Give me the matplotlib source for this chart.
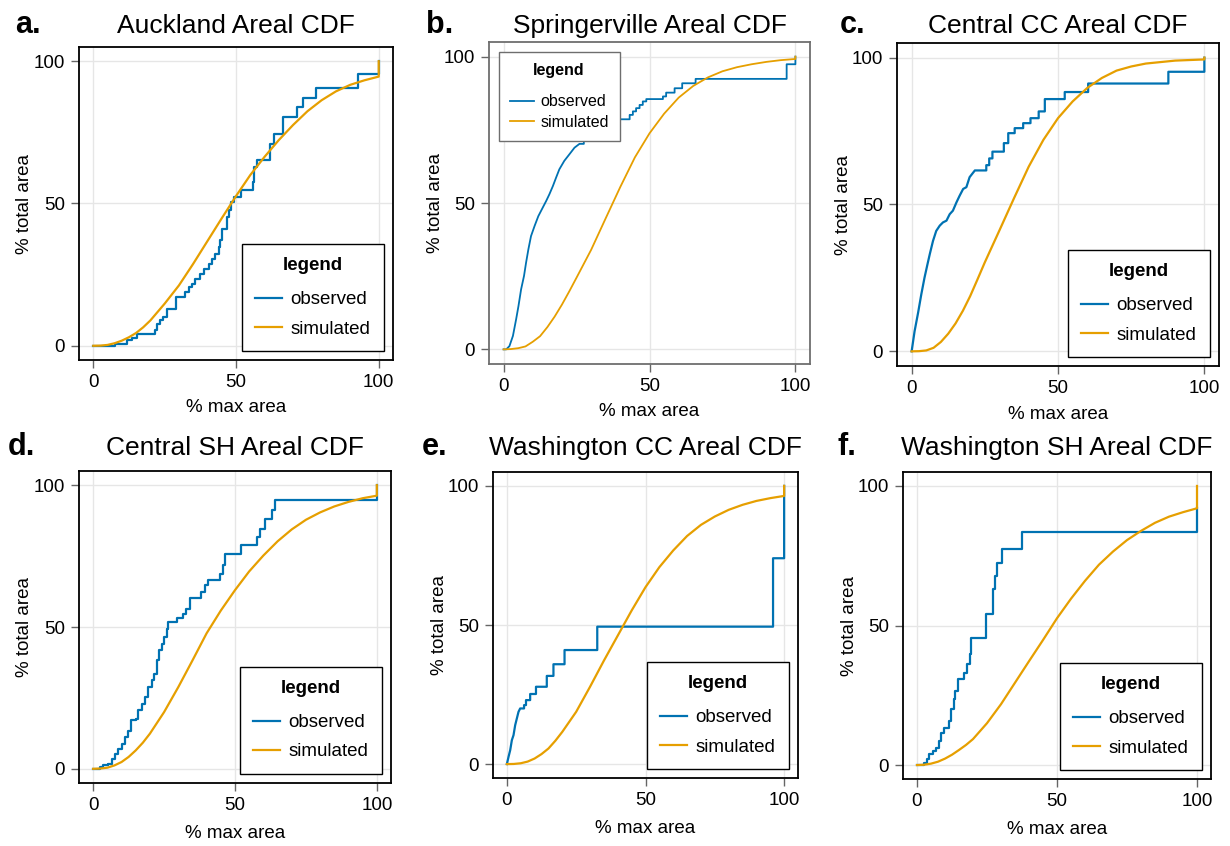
import matplotlib
matplotlib.use("Agg")
import matplotlib.pyplot as plt

plt.rcParams['font.family'] = ['Liberation Sans', 'DejaVu Sans']

# ---- data ----
letters = ["a.", "b.", "c.", "d.", "e.", "f."]
titles = ["Auckland Areal CDF", "Springerville Areal CDF", "Central CC Areal CDF",
          "Central SH Areal CDF", "Washington CC Areal CDF", "Washington SH Areal CDF"]
series_names = ["observed", "simulated"]

# observed CDFs: x where the step happens, y after the step
auck_obs_x = [0, 7.6, 11.7, 13.5, 15.2, 21.7, 22.3, 23.4, 24.6, 25.8, 29.1, 32.2, 33.4, 34.6,
              35.8, 37.5, 38.7, 40.4, 41.6, 42.8, 43.9, 44.5, 45.1, 46.9, 47.5, 48.1, 49.2,
              51.6, 55.9, 56.3, 57.4, 61.9, 63.3, 66.6, 71.3, 73.5, 78.0, 92.8, 100, 100]
auck_obs_y = [0, 0.7, 1.9, 2.6, 4.2, 5.4, 7.7, 8.9, 10.1, 13.0, 17.1, 18.9, 20.6, 21.8,
              23.6, 25.3, 27.1, 28.8, 30.6, 32.4, 34.7, 37.0, 41.1, 45.3, 47.6, 50.5, 52.3,
              54.6, 57.6, 62.8, 65.2, 71.0, 74.6, 80.4, 83.9, 87.2, 90.7, 95.4, 95.4, 100]
auck_sim_x = [0, 2.5, 5, 7.5, 10, 12.5, 15, 17.5, 20, 25, 30, 35, 40, 45, 50, 55, 60, 65, 70,
              75, 80, 85, 90, 95, 100, 100]
auck_sim_y = [0, 0.05, 0.3, 0.9, 1.8, 3.0, 4.5, 6.5, 8.9, 14.8, 21.2, 28.8, 36.8, 44.8, 52.6,
              60.0, 66.4, 72.3, 77.6, 82.4, 86.3, 89.4, 91.7, 93.3, 94.6, 100]

spr_obs_x = [0, 0.9, 2.0, 3.2, 4.3, 5.1, 6.0, 7.0, 7.7, 8.5, 9.4, 10.6, 11.9, 13.4, 14.6,
             15.7, 16.9, 18.0, 19.1, 20.8, 22.6, 24.3, 26.0, 27.5, 30.0, 33.0, 36.0, 43.2,
             44.3, 45.4, 46.6, 47.7, 48.9, 54.6, 55.7, 58.6, 61.2, 65.8, 97.0, 100, 100]
spr_obs_y = [0, 0, 1.1, 4.6, 10.3, 14.8, 20.5, 25.1, 29.6, 34.2, 38.7, 42.1, 45.5, 48.4, 50.7,
             53.0, 55.8, 58.7, 61.5, 64.4, 66.7, 68.9, 70.2, 71.5, 74.0, 76.0, 78.6, 80.1,
             81.3, 82.4, 83.5, 84.7, 85.5, 86.4, 87.7, 89.2, 90.9, 92.4, 97.4, 97.4, 100]
spr_sim_x = [0, 2.5, 5, 7.5, 10, 12.5, 15, 17.5, 20, 22.5, 25, 30, 35, 40, 45, 50, 55, 60, 65,
             70, 75, 80, 85, 90, 95, 100, 100]
spr_sim_y = [0, 0.1, 0.4, 1.0, 2.6, 4.5, 7.6, 11.2, 15.3, 19.8, 24.5, 34.0, 44.8, 55.5, 65.6,
             73.8, 80.5, 86.0, 90.0, 92.9, 95.0, 96.4, 97.4, 98.2, 98.8, 99.2, 100]

ccc_obs_x = [0, 1.0, 2.2, 3.3, 4.4, 5.4, 6.2, 7.3, 8.4, 9.6, 10.7, 11.9, 13.0, 14.1, 15.3,
             16.4, 17.6, 18.7, 19.8, 21.6, 25.5, 26.5, 27.6, 31.5, 33.0, 35.2, 38.1, 40.6,
             43.4, 45.5, 52.3, 60.3, 87.7, 100, 100]
ccc_obs_y = [0, 6.8, 13.1, 19.4, 25.1, 29.6, 33.1, 37.6, 41.0, 42.8, 43.9, 44.5, 46.7, 47.9,
             50.7, 53.0, 55.3, 55.9, 59.3, 61.6, 63.4, 65.7, 68.0, 70.9, 74.3, 76.0, 77.7,
             79.4, 81.7, 85.9, 88.3, 91.2, 95.2, 95.2, 100]
ccc_sim_x = [0, 2.5, 5, 7.5, 10, 12.5, 15, 17.5, 20, 22.5, 25, 30, 35, 40, 45, 50, 55, 60, 65,
             70, 75, 80, 90, 100, 100]
ccc_sim_y = [0, 0.05, 0.3, 1.2, 3.2, 6.0, 9.5, 13.8, 18.8, 24.5, 30.3, 41.2, 52.2, 62.9, 72.0,
             79.4, 85.1, 89.7, 93.1, 95.6, 97.0, 98.0, 99.0, 99.4, 100]

csh_obs_x = [0, 2.4, 3.5, 5.3, 6.5, 7.6, 8.8, 10.0, 11.2, 12.4, 13.5, 15.1, 15.9, 17.1, 18.2,
             19.4, 20.6, 21.4, 22.4, 23.3, 24.1, 24.9, 25.9, 26.5, 29.6, 31.8, 32.9, 34.1,
             38.0, 39.4, 40.6, 44.7, 45.6, 46.5, 52.0, 57.9, 58.8, 60.6, 62.9, 64.1, 100, 100]
csh_obs_y = [0, 0.6, 1.2, 1.8, 3.5, 5.3, 7.1, 8.8, 11.2, 13.5, 17.1, 17.6, 20.6, 22.9, 25.3,
             28.8, 31.2, 33.5, 38.2, 41.8, 44.1, 46.5, 49.4, 51.8, 53.3, 54.7, 56.5, 60.4,
             62.4, 64.7, 66.5, 68.8, 71.8, 75.9, 78.8, 81.8, 84.7, 88.2, 91.2, 94.7, 94.7, 100]
csh_sim_x = [0, 2.5, 5, 7.5, 10, 12.5, 15, 17.5, 20, 25, 30, 35, 40, 45, 50, 55, 60, 65, 70,
             75, 80, 85, 90, 95, 100, 100]
csh_sim_y = [0, 0.1, 0.4, 1.2, 2.4, 4.2, 6.5, 9.2, 12.4, 20.0, 28.8, 38.2, 47.8, 55.8, 63.0,
             69.6, 75.2, 80.2, 84.4, 87.8, 90.4, 92.5, 94.1, 95.4, 96.3, 100]

wcc_obs_x = [0, 0.6, 1.2, 1.8, 2.4, 3.0, 3.6, 4.2, 4.8, 6.2, 6.9, 8.4, 10.5, 14.4, 16.8,
             20.8, 32.6, 96.0, 100, 100]
wcc_obs_y = [0, 2.6, 5.0, 8.6, 10.4, 14.0, 16.4, 18.8, 20.0, 21.2, 23.0, 25.2, 27.8, 31.7,
             35.9, 41.0, 49.4, 74.0, 74.0, 100]
wcc_sim_x = [0, 2.5, 5, 7.5, 10, 12.5, 15, 17.5, 20, 25, 30, 35, 40, 45, 50, 55, 60, 65, 70,
             75, 80, 85, 90, 95, 100, 100]
wcc_sim_y = [0, 0.05, 0.3, 0.9, 2.0, 3.6, 5.6, 8.4, 11.6, 18.8, 27.8, 37.2, 46.2, 55.2, 63.6,
             70.8, 76.8, 82.0, 86.0, 89.0, 91.4, 93.2, 94.6, 95.6, 96.4, 100]

wsh_obs_x = [0, 2.6, 3.5, 4.4, 5.6, 6.8, 7.8, 8.6, 9.8, 11.4, 12.2, 13.1, 13.7, 14.6, 16.7,
             17.8, 19.0, 19.4, 24.7, 27.1, 28.0, 28.6, 30.5, 37.6, 100, 100]
wsh_obs_y = [0, 0.8, 2.0, 3.8, 5.0, 6.2, 8.6, 11.6, 13.4, 15.8, 20.0, 23.5, 26.5, 30.7, 33.1,
             36.1, 39.7, 45.6, 54.0, 63.0, 67.7, 72.5, 77.3, 83.5, 83.5, 92.0]
wsh_sim_x = [0, 2.5, 5, 7.5, 10, 12.5, 15, 17.5, 20, 25, 30, 35, 40, 45, 50, 55, 60, 65, 70,
             75, 80, 85, 90, 95, 100, 100]
wsh_sim_y = [0, 0.1, 0.5, 1.2, 2.3, 3.7, 5.4, 7.2, 9.3, 15.0, 21.8, 29.5, 37.2, 44.8, 52.6,
             59.6, 66.0, 71.8, 76.5, 80.6, 83.9, 86.8, 89.0, 90.6, 92.0, 100]

obs_x = [auck_obs_x, spr_obs_x, ccc_obs_x, csh_obs_x, wcc_obs_x, wsh_obs_x]
obs_y = [auck_obs_y, spr_obs_y, ccc_obs_y, csh_obs_y, wcc_obs_y, wsh_obs_y]
sim_x = [auck_sim_x, spr_sim_x, ccc_sim_x, csh_sim_x, wcc_sim_x, wsh_sim_x]
sim_y = [auck_sim_y, spr_sim_y, ccc_sim_y, csh_sim_y, wcc_sim_y, wsh_sim_y]

# below this x the observed steps are so dense that they read as a line
smooth_until = [0, 26, 22, 0, 5, 0]

# ---- layout, in pixels of the 1230x846 figure: left, top, right, bottom ----
W, H = 1230, 846
boxes = [(79, 47, 393, 360), (489, 42, 810, 364), (897, 43, 1219, 366),
         (79, 471, 391, 783), (493, 472, 798, 778), (903, 472, 1211, 779)]
letter_x = [15, 426, 840, 8, 422, 837]

BLUE = (0 / 255, 114 / 255, 178 / 255)
ORANGE = (230 / 255, 159 / 255, 0 / 255)


def cdf_path(xs, ys, lim):
    px, py = [], []
    for k in range(len(xs) - 1):
        px.append(xs[k])
        py.append(ys[k])
        if xs[k + 1] > lim:
            px.append(xs[k + 1])
            py.append(ys[k])
    px.append(xs[-1])
    py.append(ys[-1])
    return px, py


fig = plt.figure(figsize=(W / 100, H / 100), dpi=100)

for i in range(6):
    l, t, r, b = boxes[i]
    ax = fig.add_axes([l / W, 1 - b / H, (r - l) / W, (b - t) / H])
    faded = (i == 1)  # panel b looks like a softer, rescaled export
    frame = "#6e6e6e" if faded else "black"
    lw = 1.3 if faded else 1.6

    px, py = cdf_path(obs_x[i], obs_y[i], smooth_until[i])
    ax.plot(px, py, color=BLUE, lw=lw, label=series_names[0])
    ax.plot(sim_x[i], sim_y[i], color=ORANGE, lw=lw, label=series_names[1])

    ax.set_xlim(-5, 105)
    ax.set_ylim(-5, 105)
    ax.set_xticks([0, 50, 100])
    ax.set_yticks([0, 50, 100])
    ax.grid(True, color="#e6e6e6", lw=1)
    ax.set_axisbelow(True)
    for s in ax.spines.values():
        s.set_color(frame)
        s.set_linewidth(1.3)
    ax.tick_params(direction="out", length=6, width=1, color="#666666",
                   labelsize=13.5, pad=4)

    ax.set_xlabel("% max area", fontsize=13.5)
    ax.set_ylabel("% total area", fontsize=13.5)
    ax.xaxis.set_label_coords(0.5, -(48 if i < 3 else 50) / (b - t))
    ax.yaxis.set_label_coords(-54 / (r - l), 0.5)
    ax.xaxis.label.set_va("center")
    ax.yaxis.label.set_va("center")

    if faded:
        leg = ax.legend(loc="upper left", title="legend", fontsize=11.5,
                        title_fontproperties={"weight": "bold", "size": 11.5},
                        fancybox=False, framealpha=1, edgecolor=frame,
                        handlelength=1.5, handletextpad=0.4, labelspacing=0.35,
                        borderpad=0.7, borderaxespad=0.6)
    else:
        leg = ax.legend(loc="lower right", title="legend", fontsize=13.5,
                        title_fontproperties={"weight": "bold", "size": 13.5},
                        fancybox=False, framealpha=1, edgecolor="black",
                        handlelength=1.45, handletextpad=0.45, labelspacing=0.65,
                        borderpad=0.7, borderaxespad=0.5)
    leg.get_frame().set_linewidth(1.0)
    leg._legend_box.sep = 12

    # panel letter and title
    base = 1 - (33 if i < 3 else 455) / H
    fig.text(letter_x[i] / W, base, letters[i], fontsize=22, fontweight="bold",
             ha="left", va="baseline")
    fig.text((l + r) / 2 / W, base, titles[i], fontsize=19, ha="center", va="baseline")

fig.savefig("out.png", dpi=100)
